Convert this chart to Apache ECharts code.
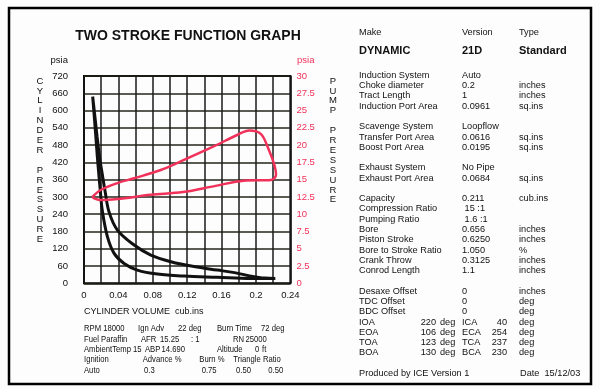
<!DOCTYPE html>
<html><head><meta charset="utf-8">
<script src="https://cdn.jsdelivr.net/npm/echarts@6/dist/echarts.min.js"></script>
<style>html,body{margin:0;padding:0;background:#fdfdfd}#c{width:600px;height:390px}</style>
</head><body><div id="c"></div>
<script>
// ---- data ----
const xTicks = [0, 0.04, 0.08, 0.12, 0.16, 0.2, 0.24];
const cylVolume   = [0.0101,0.0130,0.0152,0.0180,0.0212,0.0245,0.0291,0.0388,0.0583,0.0777,0.101,0.128,0.155,0.175,0.194,0.210,0.2225,0.194,0.155,0.1165,0.0854,0.062,0.0466,0.035,0.0272,0.0214,0.0190,0.0172,0.0155,0.0140,0.0122,0.0101];
const cylPressure = [648,570,510,440,380,320,248,185,133,98,75,58,46,37,25,18,17,17,21,25,32,46,69,104,162,250,320,380,440,500,570,648];
const pumpVolume   = [0.0097,0.0194,0.0388,0.0583,0.0893,0.1118,0.1507,0.1786,0.1922,0.2058,0.2143,0.2214,0.2233,0.2175,0.1856,0.153,0.115,0.0777,0.0388,0.0194,0.0117,0.0097];
const pumpPressure = [12.5,13.5,14.5,15.2,16.4,17.6,19.8,21.5,22.1,21.6,19.5,17.1,15.7,14.95,14.85,14.1,13.2,12.8,12.2,12.05,12.3,12.5];

const title = 'TWO STROKE FUNCTION GRAPH';
const leftAxisWord = 'CYLINDER PRESSURE';
const rightAxisWord = 'PUMP PRESSURE';
const xAxisTitle = 'CYLINDER VOLUME  cub.ins';

const runRows = [
  ['RPM 18000','Ign Adv','22 deg','Burn Time','72 deg'],
  ['Fuel Paraffin','AFR','15.25',': 1','RN','25000'],
  ['AmbientTemp 15','ABP','14.690','Altitude','0','ft'],
  ['Ignition','Advance %','Burn %','Triangle Ratio'],
  ['Auto','0.3','0.75','0.50','0.50']
];
const headRow = ['Make','Version','Type'];
const engineRow = ['DYNAMIC','21D','Standard'];
const specRows = [
  ['Induction System','Auto',''],
  ['Choke diameter','0.2','inches'],
  ['Tract Length','1','inches'],
  ['Induction Port Area','0.0961','sq.ins'],
  null,
  ['Scavenge System','Loopflow',''],
  ['Transfer Port Area','0.0616','sq.ins'],
  ['Boost Port Area','0.0195','sq.ins'],
  null,
  ['Exhaust System','No Pipe',''],
  ['Exhaust Port Area','0.0684','sq.ins'],
  null,
  ['Capacity','0.211','cub.ins'],
  ['Compression Ratio',' 15 :1',''],
  ['Pumping Ratio',' 1.6 :1',''],
  ['Bore','0.656','inches'],
  ['Piston Stroke','0.6250','inches'],
  ['Bore to Stroke Ratio','1.050','%'],
  ['Crank Throw','0.3125','inches'],
  ['Conrod Length','1.1','inches'],
  null,
  ['Desaxe Offset','0','inches'],
  ['TDC Offset','0','deg'],
  ['BDC Offset','0','deg']
];
const portRows = [
  ['IOA','220','deg','ICA','40','deg'],
  ['EOA','106','deg','ECA','254','deg'],
  ['TOA','123','deg','TCA','237','deg'],
  ['BOA','130','deg','BCA','230','deg']
];
const footer = ['Produced by ICE Version 1','Date  15/12/03'];

// ---- layout ----
const FONT = '"Liberation Sans", Arial, sans-serif';
const RED = '#f0325a';
const INK = '#111';
const G = [];
function txt(s, x, y, o) {
  o = o || {};
  G.push({type:'text', x:x, y:y, scaleX:o.sx||1, silent:true, style:Object.assign({
    text:s, fill:INK, font:(o.bold?'bold ':'')+(o.size||9.2)+'px '+FONT,
    textAlign:o.align||'left', textVerticalAlign:'middle'
  }, o.style||{})});
}
G.push({type:'rect', shape:{x:9,y:8,width:582,height:376}, style:{fill:'none', stroke:'#000', lineWidth:2.5}, silent:true});
txt(title, 188, 36, {bold:true, size:14, align:'center'});
txt('psia', 68, 60, {size:9.5, align:'right'});
txt('psia', 297, 60, {size:9.5, style:{fill:RED}});
function stack(word, x) {
  word.split('').forEach((c, i) => { if (c !== ' ') txt(c, x, 81 + i*9.9, {size:9.5, align:'center'}); });
}
stack(leftAxisWord, 40);
stack(rightAxisWord, 333);
txt(xAxisTitle, 84, 312, {size:9});

const runX = [
  [84,138,178,217,261],
  [84,141,160,191,233,245.5],
  [84,145,161.5,217,255,262],
  [84,142.7,199.3,233.3],
  [84,144,201.7,236,268.3]
];
runRows.forEach((row, r) => row.forEach((s, c) => txt(s, runX[r][c], 328.5 + r*10.4, {size:9.6, sx:0.8})));

const colX = [359, 462, 519];
headRow.forEach((s, c) => txt(s, colX[c], 32.5));
engineRow.forEach((s, c) => txt(s, colX[c], 51, {bold:true, size:11}));
const y0 = 75.3, step = 10.28;
specRows.forEach((row, i) => { if (row) row.forEach((s, c) => { if (s) txt(s, colX[c], y0 + i*step); }); });
portRows.forEach((row, j) => {
  const y = y0 + (specRows.length + j)*step;
  txt(row[0], 359, y); txt(row[1], 436, y, {align:'right'}); txt(row[2], 440, y);
  txt(row[3], 462, y); txt(row[4], 507, y, {align:'right'}); txt(row[5], 519, y);
});
txt(footer[0], 359, y0 + (specRows.length + portRows.length + 1)*step);
txt(footer[1], 520, y0 + (specRows.length + portRows.length + 1)*step);

const chart = echarts.init(document.getElementById('c'), null, {renderer:'canvas'});
chart.setOption({
  animation:false,
  backgroundColor:'#fdfdfd',
  grid:{left:84, top:76, width:206.4, height:207.3, show:true, borderColor:'#000', borderWidth:2, backgroundColor:'transparent'},
  xAxis:{type:'value', min:0, max:0.24, interval:0.02,
    axisLine:{show:false}, axisTick:{show:false},
    splitLine:{lineStyle:{color:'#1a1a1a', width:1.5}},
    axisLabel:{margin:7, color:INK, fontSize:9.5, fontFamily:FONT,
      formatter:v => { const i = Math.round(v/0.02); if (i % 2) return ''; const t = xTicks[i/2]; return t === undefined ? '' : String(t); }}
  },
  yAxis:[
    {type:'value', min:0, max:720, interval:60, position:'left',
      axisLine:{show:false}, axisTick:{show:false},
      splitLine:{lineStyle:{color:'#26241a', width:1.5}},
      axisLabel:{margin:16, color:INK, fontSize:9.5, fontFamily:FONT}},
    {type:'value', min:0, max:30, interval:2.5, position:'right',
      axisLine:{show:false}, axisTick:{show:false}, splitLine:{show:false},
      axisLabel:{margin:6, color:RED, fontSize:9.5, fontFamily:FONT}}
  ],
  series:[
    {type:'line', yAxisIndex:0, data:cylVolume.map((v,i)=>[v, cylPressure[i]]),
      showSymbol:false, smooth:0.35, lineStyle:{color:'#111', width:3}, silent:true},
    {type:'line', yAxisIndex:1, data:pumpVolume.map((v,i)=>[v, pumpPressure[i]]),
      showSymbol:false, smooth:0.35, lineStyle:{color:RED, width:2.5}, silent:true}
  ],
  graphic:G
});
</script></body></html>
